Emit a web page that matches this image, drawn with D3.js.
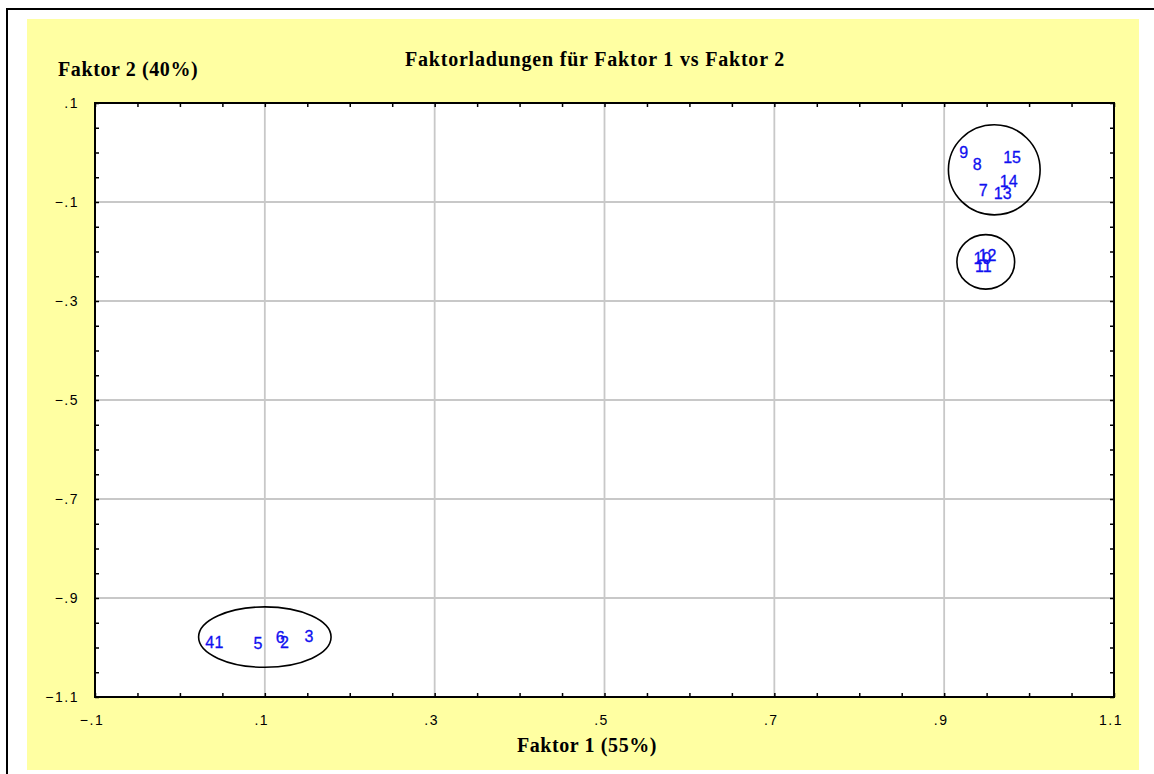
<!DOCTYPE html>
<html>
<head>
<meta charset="utf-8">
<script src="https://cdn.jsdelivr.net/npm/d3@7"></script>
<style>
  body { margin: 0; background: #fff; }
  svg { display: block; }
</style>
</head>
<body>
<script>
// point labels and their loadings (Faktor 1, Faktor 2)
const labels   = ["1", "2", "3", "4", "5", "6", "7", "8", "9", "10", "11", "12", "13", "14", "15"];
const faktor1  = [0.046, 0.123, 0.152, 0.035, 0.092, 0.118, 0.946, 0.939, 0.923, 0.945, 0.946, 0.951, 0.969, 0.976, 0.980];
const faktor2  = [-0.989, -0.989, -0.977, -0.989, -0.991, -0.979, -0.076, -0.023, 0.001, -0.213, -0.229, -0.207, -0.082, -0.058, -0.009];

// hand-drawn cluster ellipses, in data units
const ellipseCx = [0.959, 0.949, 0.100];
const ellipseCy = [-0.035, -0.221, -0.979];
const ellipseRx = [0.054, 0.034, 0.078];
const ellipseRy = [0.091, 0.055, 0.061];

const xTickLabels = [-0.1, 0.1, 0.3, 0.5, 0.7, 0.9, 1.1];
const yTickLabels = [0.1, -0.1, -0.3, -0.5, -0.7, -0.9, -1.1];

const width = 1154;
const height = 774;
const plotLeft = 95, plotRight = 1114, plotTop = 103, plotBottom = 697;

const svg = d3.select("body")
    .append("svg")
    .attr("width", width)
    .attr("height", height);

// outer frame and yellow panel
svg.append("rect")
    .attr("x", 7).attr("y", 9)
    .attr("width", 1170).attr("height", 790)
    .attr("fill", "#fff")
    .attr("stroke", "#000")
    .attr("stroke-width", 2);
svg.append("rect")
    .attr("x", 27).attr("y", 19)
    .attr("width", 1112).attr("height", 751)
    .attr("fill", "#ffffa2");

const x = d3.scaleLinear().domain([-0.1, 1.1]).range([plotLeft, plotRight]);
const y = d3.scaleLinear().domain([-1.1, 0.1]).range([plotBottom, plotTop]);

svg.append("rect")
    .attr("x", plotLeft).attr("y", plotTop)
    .attr("width", plotRight - plotLeft).attr("height", plotBottom - plotTop)
    .attr("fill", "#fff");

// labels like ".1" and "-.1"
const fmt = v => {
    let s = d3.format(".1f")(Math.abs(v)).replace(/^0/, "");
    return (v < 0 ? "\u2212" : "") + s;
};

// gridlines at labelled values
const grid = svg.append("g");
xTickLabels.slice(1, -1).forEach(v => {
    grid.append("line")
        .attr("x1", x(v)).attr("x2", x(v))
        .attr("y1", plotTop).attr("y2", plotBottom)
        .attr("stroke", "#c8c8c8").attr("stroke-width", 1.8);
});
yTickLabels.slice(1, -1).forEach(v => {
    grid.append("line")
        .attr("x1", plotLeft).attr("x2", plotRight)
        .attr("y1", y(v)).attr("y2", y(v))
        .attr("stroke", "#c8c8c8").attr("stroke-width", 1.8);
});

// minor ticks every .05, pointing inward, on all four sides
const xMinor = d3.range(-0.1, 1.1001, 0.05);
const yMinor = d3.range(-1.1, 0.1001, 0.05);
const tickStyle = g => {
    g.select(".domain").remove();
    g.selectAll(".tick line").attr("stroke", "#000").attr("stroke-width", 1.5);
    g.selectAll(".tick text").remove();
};
svg.append("g").attr("transform", `translate(0,${plotBottom})`)
    .call(d3.axisTop(x).tickValues(xMinor).tickSize(4)).call(tickStyle);
svg.append("g").attr("transform", `translate(0,${plotTop})`)
    .call(d3.axisBottom(x).tickValues(xMinor).tickSize(4)).call(tickStyle);
svg.append("g").attr("transform", `translate(${plotLeft},0)`)
    .call(d3.axisRight(y).tickValues(yMinor).tickSize(4)).call(tickStyle);
svg.append("g").attr("transform", `translate(${plotRight},0)`)
    .call(d3.axisLeft(y).tickValues(yMinor).tickSize(4)).call(tickStyle);

// tick labels
const sans = "Arial, 'Liberation Sans', sans-serif";
svg.append("g").selectAll("text")
    .data(xTickLabels)
    .join("text")
    .attr("x", d => x(d) - 3)
    .attr("y", plotBottom + 28)
    .attr("text-anchor", "middle")
    .attr("font-family", sans)
    .attr("font-size", 14)
    .attr("letter-spacing", 1.5)
    .text(d => fmt(d));
svg.append("g").selectAll("text")
    .data(yTickLabels)
    .join("text")
    .attr("x", plotLeft - 16)
    .attr("y", d => y(d) + 5)
    .attr("text-anchor", "end")
    .attr("font-family", sans)
    .attr("font-size", 14)
    .attr("letter-spacing", 1.5)
    .text(d => fmt(d));

// plot frame
svg.append("rect")
    .attr("x", plotLeft).attr("y", plotTop)
    .attr("width", plotRight - plotLeft).attr("height", plotBottom - plotTop)
    .attr("fill", "none")
    .attr("stroke", "#000")
    .attr("stroke-width", 2);

// titles
const serif = "'Times New Roman', 'Liberation Serif', serif";
svg.append("text")
    .attr("x", 595).attr("y", 66)
    .attr("text-anchor", "middle")
    .attr("font-family", serif).attr("font-weight", "bold").attr("font-size", 20)
    .attr("letter-spacing", 0.8)
    .text("Faktorladungen für Faktor 1 vs Faktor 2");
svg.append("text")
    .attr("x", 58).attr("y", 76)
    .attr("font-family", serif).attr("font-weight", "bold").attr("font-size", 20)
    .attr("letter-spacing", 0.6)
    .text("Faktor 2 (40%)");
svg.append("text")
    .attr("x", 587).attr("y", 752)
    .attr("text-anchor", "middle")
    .attr("font-family", serif).attr("font-weight", "bold").attr("font-size", 20)
    .attr("letter-spacing", 0.6)
    .text("Faktor 1 (55%)");

// point labels
svg.append("g").selectAll("text")
    .data(labels)
    .join("text")
    .attr("x", (d, i) => x(faktor1[i]))
    .attr("y", (d, i) => y(faktor2[i]))
    .attr("dy", "0.36em")
    .attr("text-anchor", "middle")
    .attr("font-family", sans)
    .attr("font-size", 16)
    .attr("fill", "#1010f0")
    .attr("stroke", "#1010f0")
    .attr("stroke-width", 0.3)
    .text(d => d);

// cluster ellipses
svg.append("g").selectAll("ellipse")
    .data(ellipseCx)
    .join("ellipse")
    .attr("cx", (d, i) => x(d))
    .attr("cy", (d, i) => y(ellipseCy[i]))
    .attr("rx", (d, i) => x(ellipseRx[i]) - x(0))
    .attr("ry", (d, i) => y(0) - y(ellipseRy[i]))
    .attr("fill", "none")
    .attr("stroke", "#000")
    .attr("stroke-width", 1.6);
</script>
</body>
</html>
